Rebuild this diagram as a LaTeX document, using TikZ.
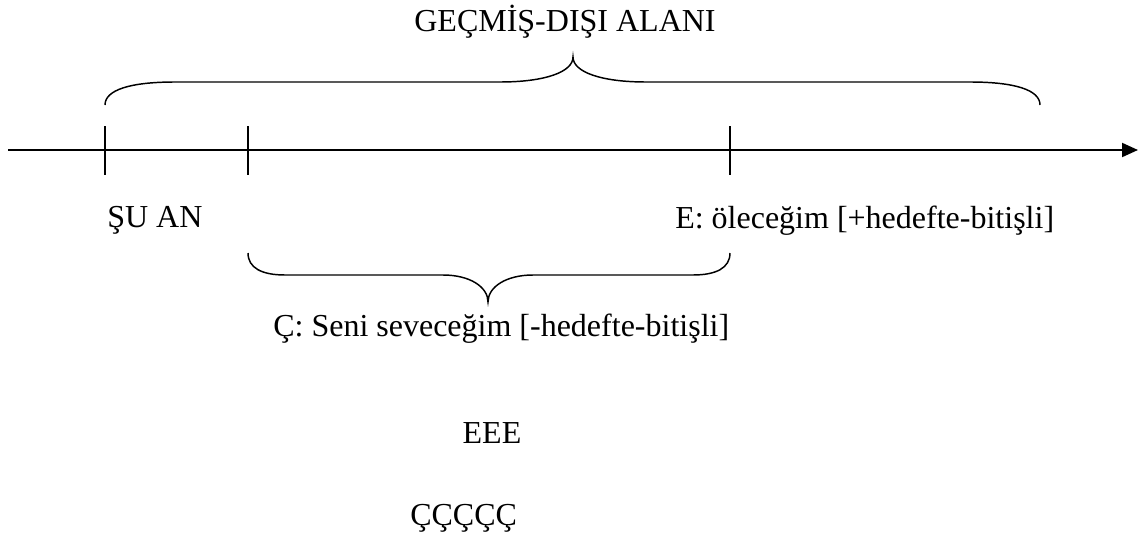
\documentclass[tikz,border=0pt]{standalone}
\usepackage{fontspec}
\setmainfont{Liberation Serif}
\usetikzlibrary{arrows.meta}
\tikzset{
  lbl/.style={inner sep=0pt, font=\fontsize{24}{28}\selectfont},
  axis/.style={line width=1.5pt, -{Triangle[length=12pt,width=10.5pt]}},
  tick/.style={line width=0.8pt},
  bracecurve/.style={line width=1.1pt},
}
\begin{document}
\begin{tikzpicture}[x=0.75pt,y=-0.75pt]
\useasboundingbox (0,0) rectangle (1145,542);
% timeline
\coordinate (start) at (8,150);
\coordinate (end) at (1138,150);
\draw[axis] (start) -- (end);
% ticks
\coordinate (t1a) at (105,126); \coordinate (t1b) at (105,175);
\coordinate (t2a) at (248,126); \coordinate (t2b) at (248,175);
\coordinate (t3a) at (730,126); \coordinate (t3b) at (730,175);
\draw[tick] (t1a) -- (t1b);
\draw[tick] (t2a) -- (t2b);
\draw[tick] (t3a) -- (t3b);
% top brace
\draw[bracecurve] (105,105) .. controls (105,90) and (130,82) .. (175,82) -- (500,82)
  .. controls (545,82) and (573,72) .. (573,57)
  .. controls (573,72) and (601,82) .. (646,82) -- (970,82)
  .. controls (1015,82) and (1040,90) .. (1040,105);
% bottom brace
\draw[bracecurve] (248,253) .. controls (248,268) and (262,275) .. (285,275) -- (443,275)
  .. controls (470,275) and (488,287) .. (488,302)
  .. controls (488,287) and (506,275) .. (533,275) -- (693,275)
  .. controls (716,275) and (730,268) .. (730,253);
% labels
\node[lbl, anchor=base] (gd) at (565,32) {GEÇMİŞ-DIŞI ALANI};
\node[lbl, anchor=base west] (su) at (107,227) {ŞU AN};
\node[lbl, anchor=base west] (e) at (675,228) {E: öleceğim [+hedefte-bitişli]};
\node[lbl, anchor=base west] (c) at (273,336) {Ç: Seni seveceğim [-hedefte-bitişli]};
\node[lbl, anchor=base] (eee) at (492,443) {EEE};
\node[lbl, anchor=base west] (ccc) at (410,525) {ÇÇÇÇÇ};
\end{tikzpicture}
\end{document}
